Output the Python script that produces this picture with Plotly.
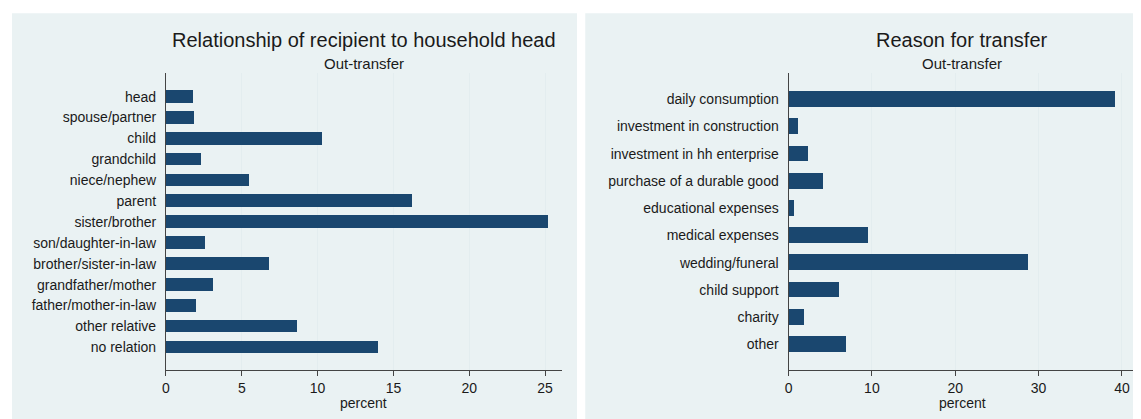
import plotly.graph_objects as go

# ---- data ----
rel_categories = ["head", "spouse/partner", "child", "grandchild", "niece/nephew", "parent",
                  "sister/brother", "son/daughter-in-law", "brother/sister-in-law",
                  "grandfather/mother", "father/mother-in-law", "other relative", "no relation"]
rel_percent = [1.75, 1.86, 10.29, 2.32, 5.45, 16.2, 25.16, 2.6, 6.79, 3.13, 1.97, 8.65, 13.99]

reason_categories = ["daily consumption", "investment in construction", "investment in hh enterprise",
                     "purchase of a durable good", "educational expenses", "medical expenses",
                     "wedding/funeral", "child support", "charity", "other"]
reason_percent = [39.1, 1.08, 2.27, 4.07, 0.64, 9.53, 28.67, 5.98, 1.84, 6.86]

left_ticks = [0, 5, 10, 15, 20, 25]
right_ticks = [0, 10, 20, 30, 40]

# page has an 8px default body margin; size the figure to fit the window
OFF = 8
W, H = 1141 - OFF, 419 - OFF
BAR = "#1a476f"
BG = "#eaf2f3"
GRID = "#e3edef"
TXT = "#1a1a1a"
FONT = "Liberation Sans, Arial, sans-serif"


def px(x):
    return (x - OFF) / W


def py(y):
    return 1 - (y - OFF) / H


fig = go.Figure()
fig.add_trace(go.Bar(x=rel_percent, y=rel_categories, orientation="h",
                     marker=dict(color=BAR, line=dict(width=0)),
                     width=0.61, xaxis="x", yaxis="y", showlegend=False))
fig.add_trace(go.Bar(x=reason_percent, y=reason_categories, orientation="h",
                     marker=dict(color=BAR, line=dict(width=0)),
                     width=0.58, xaxis="x2", yaxis="y2", showlegend=False))

ytop, ybot = 73.3, 370
common_x = dict(showgrid=True, gridcolor=GRID, gridwidth=1, zeroline=False, showline=True,
                linecolor="#444", linewidth=1, ticks="outside", ticklen=5, tickcolor="#444",
                tickfont=dict(size=14, color=TXT, family=FONT), fixedrange=True)
common_y = dict(type="category", showgrid=False, zeroline=False, showline=True, linecolor="#444",
                linewidth=1, ticks="", tickfont=dict(size=14, color=TXT, family=FONT),
                ticklabelstandoff=6)

fig.update_layout(
    width=W, height=H, margin=dict(l=0, r=0, t=0, b=0),
    paper_bgcolor="white", plot_bgcolor="white", bargap=0,
    font=dict(family=FONT, color=TXT),
    xaxis=dict(domain=[px(162.5), px(560)], range=[0, 26.12], tickvals=left_ticks, anchor="y", **common_x),
    yaxis=dict(domain=[py(ybot), py(ytop)], range=[len(rel_categories) - 1 + 1.09, -1.12],
               categoryorder="array", categoryarray=rel_categories, anchor="x", **common_y),
    xaxis2=dict(domain=[px(787.3), px(1136)], range=[0, 41.69], tickvals=right_ticks, anchor="y2", **common_x),
    yaxis2=dict(domain=[py(ybot), py(ytop)], range=[len(reason_categories) - 1 + 0.944, -0.955],
                categoryorder="array", categoryarray=reason_categories, anchor="x2", **common_y),
    shapes=[
        dict(type="rect", xref="paper", yref="paper", x0=0, x1=px(575), y0=0, y1=py(13.3),
             fillcolor=BG, line=dict(width=0), layer="below"),
        dict(type="rect", xref="paper", yref="paper", x0=px(583.3), x1=1, y0=0, y1=py(13.3),
             fillcolor=BG, line=dict(width=0), layer="below"),
    ],
    annotations=[
        dict(text="Relationship of recipient to household head", x=px(361), y=py(40), xref="paper",
             yref="paper", showarrow=False, font=dict(size=20, color=TXT, family=FONT),
             xanchor="center", yanchor="middle"),
        dict(text="Out-transfer", x=px(361), y=py(63.5), xref="paper", yref="paper",
             showarrow=False, font=dict(size=15, color=TXT, family=FONT), xanchor="center", yanchor="middle"),
        dict(text="percent", x=px(361), y=py(403), xref="paper", yref="paper",
             showarrow=False, font=dict(size=14, color=TXT, family=FONT), xanchor="center", yanchor="middle"),
        dict(text="Reason for transfer", x=px(961.5), y=py(40), xref="paper", yref="paper",
             showarrow=False, font=dict(size=20, color=TXT, family=FONT), xanchor="center", yanchor="middle"),
        dict(text="Out-transfer", x=px(961.5), y=py(63.5), xref="paper", yref="paper",
             showarrow=False, font=dict(size=15, color=TXT, family=FONT), xanchor="center", yanchor="middle"),
        dict(text="percent", x=px(961.5), y=py(403), xref="paper", yref="paper",
             showarrow=False, font=dict(size=14, color=TXT, family=FONT), xanchor="center", yanchor="middle"),
    ],
)

fig.write_html("out.html")
